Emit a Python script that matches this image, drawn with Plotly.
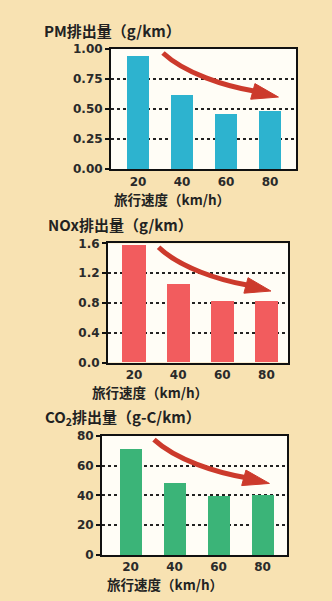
import plotly.graph_objects as go

W, H = 332, 601

speeds = [20, 40, 60, 80]
speed_labels = ["20", "40", "60", "80"]
pm_values = [0.94, 0.62, 0.455, 0.48]
nox_values = [1.57, 1.05, 0.82, 0.82]
co2_values = [71.5, 48.5, 39.5, 40.5]

pm_ticks = [0, 0.25, 0.5, 0.75, 1.0]
nox_ticks = [0, 0.4, 0.8, 1.2, 1.6]
co2_ticks = [0, 20, 40, 60, 80]

titles = ["PM排出量（g/km）", "NOx排出量（g/km）", "CO<sub>2</sub>排出量（g-C/km）"]
xtitle = "旅行速度（km/h）"

colors = ["#2DB3CF", "#F25C5E", "#3BB478"]
arrow_color = "#CC3A2C"
bg = "#F8E2B2"

# panel boxes in pixels: (left, right, top, bottom)
boxes = [(111, 296, 43, 166), (108, 288, 242, 364), (102, 287, 439, 561)]
xranges = [[7.7, 91.8], [8.2, 89.8], [7.0, 91.1]]
yranges = [[0, 1.0], [0, 1.6], [0, 80]]
yticks = [pm_ticks, nox_ticks, co2_ticks]
yfmt = [".2f", ".1f", "d"]
values = [pm_values, nox_values, co2_values]
title_pos = [(42, 24), (46, 223), (43, 420)]
xtitle_pos = [(112, 197), (90, 394), (105, 591)]
bar_w = [10, 10.5, 10]

fig = go.Figure()
tickfont = dict(family="DejaVu Sans", size=12, color="#2a2a2a", weight="bold")

for i in range(3):
    sfx = "" if i == 0 else str(i + 1)
    l, r, t, b = boxes[i]
    fig.add_trace(go.Bar(
        x=speeds, y=values[i], width=bar_w[i],
        marker=dict(color=colors[i], line=dict(width=0)),
        xaxis="x" + sfx, yaxis="y" + sfx, showlegend=False,
    ))
    fig.layout["xaxis" + sfx] = dict(
        domain=[l / W, r / W], range=xranges[i], anchor="y" + sfx,
        tickvals=speeds, ticktext=speed_labels, ticks="",
        showgrid=False, zeroline=False, showline=True, mirror=True,
        linecolor="#111", linewidth=2, tickfont=tickfont, ticklabelstandoff=0,
    )
    fig.layout["yaxis" + sfx] = dict(
        domain=[1 - b / H, 1 - t / H], range=yranges[i], anchor="x" + sfx,
        tickvals=yticks[i], tickformat=yfmt[i], ticks="outside", ticklen=4,
        tickwidth=1.5, tickcolor="#111",
        showgrid=True, gridcolor="#222", griddash="dot", gridwidth=1.5,
        zeroline=False, showline=True, mirror=True, linecolor="#111",
        linewidth=2, tickfont=tickfont,
    )
    # panel title
    tx, ty = title_pos[i]
    fig.add_annotation(text=titles[i], x=tx / W, y=1 - ty / H, xref="paper", yref="paper",
                       xanchor="left", yanchor="middle", showarrow=False,
                       font=dict(family="Noto Sans CJK JP", size=15, color="#222", weight="bold"))
    xx, xy = xtitle_pos[i]
    fig.add_annotation(text=xtitle, x=xx / W, y=1 - xy / H, xref="paper", yref="paper",
                       xanchor="left", yanchor="middle", showarrow=False,
                       font=dict(family="Noto Sans CJK JP", size=13.5, color="#222", weight="bold"))
    # curved trend arrow (in axis-domain fractions)
    fig.add_shape(type="path", xref="x" + sfx + " domain", yref="y" + sfx + " domain",
                  path="M 0.281 0.967 C 0.400 0.797, 0.616 0.691, 0.780 0.648",
                  line=dict(color=arrow_color, width=5), layer="above")
    fig.add_shape(type="path", xref="x" + sfx + " domain", yref="y" + sfx + " domain",
                  path="M 0.905 0.600 L 0.755 0.582 L 0.778 0.712 Z",
                  fillcolor=arrow_color, line=dict(color=arrow_color, width=1), layer="above")

fig.update_layout(
    width=W, height=H, margin=dict(l=0, r=0, t=0, b=0),
    paper_bgcolor=bg, plot_bgcolor="#FFFDF6", bargap=0,
)

fig.write_html("out.html")
